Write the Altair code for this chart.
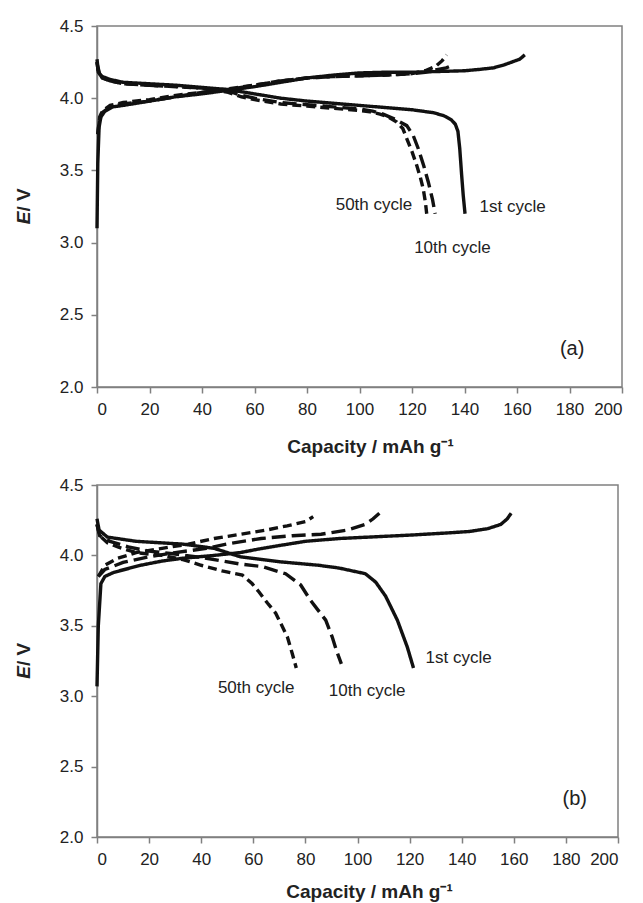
import altair as alt
import pandas as pd

# ---------------- Panel (a) ----------------
a1c_x = [0, 0.3, 0.8, 1.5, 3, 6, 10, 20, 30, 40, 50, 60, 70, 80, 90, 100, 110, 120, 130, 140, 146, 151, 155, 158, 161, 163]
a1c_y = [3.10, 3.55, 3.80, 3.87, 3.91, 3.94, 3.95, 3.98, 4.01, 4.03, 4.055, 4.08, 4.11, 4.14, 4.16, 4.175, 4.18, 4.18, 4.185, 4.19, 4.20, 4.21, 4.23, 4.25, 4.27, 4.30]
a1d_x = [0, 0.3, 1, 2, 5, 10, 20, 30, 40, 50, 55, 60, 70, 80, 90, 100, 110, 120, 128, 132, 135, 136.5, 137.5, 138.2, 138.9, 139.5, 140.2]
a1d_y = [4.27, 4.22, 4.17, 4.15, 4.13, 4.11, 4.10, 4.09, 4.075, 4.06, 4.045, 4.03, 4.00, 3.98, 3.965, 3.95, 3.935, 3.92, 3.90, 3.88, 3.85, 3.82, 3.77, 3.65, 3.47, 3.33, 3.20]
a10c_x = [0.3, 1, 2, 5, 10, 20, 30, 40, 50, 60, 70, 80, 90, 100, 110, 120, 125, 130, 133, 135.7]
a10c_y = [3.75, 3.86, 3.90, 3.94, 3.96, 3.98, 4.01, 4.04, 4.06, 4.09, 4.12, 4.14, 4.15, 4.155, 4.16, 4.17, 4.18, 4.20, 4.21, 4.23]
a50c_x = [0.3, 1, 2, 5, 10, 20, 30, 40, 50, 60, 70, 80, 90, 100, 110, 120, 125, 129, 131.5, 133.2]
a50c_y = [3.75, 3.87, 3.91, 3.95, 3.97, 3.99, 4.02, 4.04, 4.065, 4.09, 4.12, 4.14, 4.15, 4.155, 4.16, 4.17, 4.19, 4.22, 4.26, 4.30]
a10d_x = [0, 0.5, 2, 5, 10, 20, 30, 40, 50, 55, 60, 70, 80, 90, 100, 105, 109, 114, 118, 120.5, 122.4, 124.5, 126.2, 127.8, 128.8]
a10d_y = [4.25, 4.18, 4.14, 4.12, 4.10, 4.09, 4.08, 4.07, 4.05, 4.02, 4.00, 3.97, 3.955, 3.94, 3.925, 3.91, 3.89, 3.85, 3.81, 3.74, 3.65, 3.53, 3.42, 3.30, 3.20]
a50d_x = [0, 0.5, 2, 5, 10, 20, 30, 40, 50, 55, 60, 70, 80, 90, 100, 104, 107.8, 111, 114.2, 116.5, 118, 120, 121.8, 123.2, 124.3, 125.1, 125.6]
a50d_y = [4.25, 4.18, 4.14, 4.12, 4.10, 4.09, 4.08, 4.07, 4.04, 4.01, 3.99, 3.96, 3.945, 3.93, 3.915, 3.905, 3.89, 3.87, 3.835, 3.79, 3.72, 3.63, 3.535, 3.45, 3.37, 3.28, 3.20]

a_labels = ["50th cycle", "1st cycle", "10th cycle"]
a_label_x = [105.5, 158.3, 135.4]
a_label_y = [3.26, 3.25, 2.96]

# ---------------- Panel (b) ----------------
b1c_x = [0, 0.5, 1.5, 3, 6.5, 16.8, 25, 33, 45, 55, 62, 70, 80, 93, 110, 121, 135, 143, 150, 155, 157.5, 159]
b1c_y = [3.07, 3.50, 3.80, 3.85, 3.88, 3.93, 3.96, 3.98, 4.00, 4.02, 4.045, 4.07, 4.10, 4.12, 4.135, 4.145, 4.16, 4.17, 4.19, 4.22, 4.26, 4.30]
b1d_x = [0, 0.8, 4, 15, 33, 45, 55, 70, 85, 93, 103, 107, 110.8, 115.3, 119.1, 121.5]
b1d_y = [4.26, 4.18, 4.13, 4.10, 4.08, 4.05, 3.99, 3.955, 3.93, 3.91, 3.87, 3.81, 3.71, 3.54, 3.35, 3.20]
b10c_x = [0.5, 3, 10, 20, 30, 42, 51, 63, 75, 86, 96, 103, 106, 108.4]
b10c_y = [3.85, 3.90, 3.95, 3.99, 4.02, 4.05, 4.085, 4.12, 4.14, 4.15, 4.18, 4.22, 4.26, 4.30]
b10d_x = [0, 1, 5, 12, 20, 30, 42, 54.5, 63.5, 72.4, 78.2, 82, 87.8, 90.3, 92, 93.8]
b10d_y = [4.22, 4.14, 4.10, 4.06, 4.03, 4.01, 3.98, 3.94, 3.92, 3.87, 3.79, 3.68, 3.54, 3.42, 3.32, 3.23]
b50c_x = [0.5, 3, 8, 15, 25, 35, 45, 55, 65, 73, 80, 83]
b50c_y = [3.85, 3.93, 3.98, 4.02, 4.05, 4.08, 4.12, 4.15, 4.18, 4.21, 4.24, 4.275]
b50d_x = [0, 1, 4, 8, 15, 25, 33, 40, 48, 55.8, 59.5, 62.2, 65.5, 68.6, 71, 73.1, 75, 76.5]
b50d_y = [4.22, 4.14, 4.09, 4.06, 4.02, 4.00, 3.97, 3.93, 3.89, 3.86, 3.80, 3.74, 3.66, 3.59, 3.50, 3.42, 3.30, 3.20]

b_labels = ["1st cycle", "50th cycle", "10th cycle"]
b_label_x = [138.8, 61.1, 103.7]
b_label_y = [3.27, 3.055, 3.04]

cycles = ["1st", "10th", "50th"]
x_ticks = list(range(0, 201, 20))
y_ticks = [2.0, 2.5, 3.0, 3.5, 4.0, 4.5]


def curves_df(curves):
    rows = []
    for cyc, kind, xs, ys in curves:
        for i, (xv, yv) in enumerate(zip(xs, ys)):
            rows.append({"cap": xv, "E": yv, "cycle": cyc, "curve": cyc + "-" + kind, "i": i})
    return pd.DataFrame(rows)


df_a = curves_df([
    ("1st", "c", a1c_x, a1c_y), ("1st", "d", a1d_x, a1d_y),
    ("10th", "c", a10c_x, a10c_y), ("10th", "d", a10d_x, a10d_y),
    ("50th", "c", a50c_x, a50c_y), ("50th", "d", a50d_x, a50d_y),
])
df_b = curves_df([
    ("1st", "c", b1c_x, b1c_y), ("1st", "d", b1d_x, b1d_y),
    ("10th", "c", b10c_x, b10c_y), ("10th", "d", b10d_x, b10d_y),
    ("50th", "c", b50c_x, b50c_y), ("50th", "d", b50d_x, b50d_y),
])


def panel(df, labels, lx, ly, letter, letter_x, letter_y, W, H, dashes, title_pad, title_x):
    xenc = alt.X("cap:Q", scale=alt.Scale(domain=[0, 200], nice=False),
                 axis=alt.Axis(values=x_ticks, format="d", title="Capacity / mAh g⁻¹",
                               titlePadding=title_pad, titleX=title_x, titleAlign="center"))
    yenc = alt.Y("E:Q", scale=alt.Scale(domain=[2.0, 4.5], nice=False),
                 axis=alt.Axis(values=y_ticks, format=".1f", title=None))
    lines = alt.Chart(df).mark_line(strokeWidth=3.4, color="#111", strokeCap="butt").encode(
        x=xenc, y=yenc,
        strokeDash=alt.StrokeDash("cycle:N", scale=alt.Scale(domain=cycles, range=dashes), legend=None),
        detail="curve:N",
        order="i:Q",
    )
    lab_df = pd.DataFrame({"label": labels, "cap": lx, "E": ly})
    text = alt.Chart(lab_df).mark_text(fontSize=17, color="#222").encode(x=xenc, y=yenc, text="label:N")
    let_df = pd.DataFrame({"label": [letter], "cap": [letter_x], "E": [letter_y]})
    let = alt.Chart(let_df).mark_text(fontSize=20, color="#222").encode(x=xenc, y=yenc, text="label:N")
    t1 = alt.Chart(pd.DataFrame({"t": ["E"]})).mark_text(
        angle=270, align="right", baseline="middle", fontSize=19, fontWeight="bold",
        fontStyle="italic", color="#222").encode(x=alt.value(-73), y=alt.value(H / 2 + 5), text="t:N")
    t2 = alt.Chart(pd.DataFrame({"t": ["/ V"]})).mark_text(
        angle=270, align="left", baseline="middle", fontSize=19, fontWeight="bold",
        color="#222").encode(x=alt.value(-73), y=alt.value(H / 2 + 5), text="t:N")
    return alt.layer(lines, text, let, t1, t2).properties(width=W, height=H)


pa = panel(df_a, a_labels, a_label_x, a_label_y, "(a)", 181, 2.26, 525, 361,
           [[1, 0], [14, 6], [9, 5]], 20, 273)
pb = panel(df_b, b_labels, b_label_x, b_label_y, "(b)", 183.4, 2.27, 521, 352,
           [[1, 0], [24, 11], [11, 6]], 15, 272)

chart = alt.vconcat(pa, pb, spacing=18).properties(
    padding={"left": 6, "top": 8, "right": 0, "bottom": 0}
).configure(font="Liberation Sans").configure_view(
    stroke="#808080", strokeWidth=1.5
).configure_axis(
    domainColor="#808080", tickColor="#808080", domainWidth=1.5, tickWidth=1.5, tickSize=6,
    labelFontSize=17, labelColor="#222", labelPadding=8, grid=False,
    titleFontSize=19, titleFontWeight="bold", titleColor="#222"
)

chart.save("out.html", embed_options={"renderer": "svg", "actions": False})
